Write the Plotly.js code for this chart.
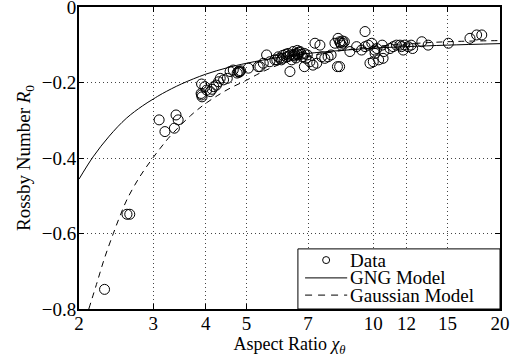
<!DOCTYPE html>
<html>
<head>
<meta charset="utf-8">
<script src="https://cdn.plot.ly/plotly-3.0.1.min.js"></script>
<style>html,body{margin:0;padding:0;background:#fff;}#chart{width:520px;height:359px;}</style>
</head>
<body>
<div id="chart"></div>
<script>
// Data points (aspect ratio, Rossby number)
const dataX = [2.30, 2.60, 2.64, 3.10, 3.20, 3.37, 3.40, 3.44,
  3.91, 3.90, 3.91, 3.92, 3.98, 4.02, 4.10, 4.14, 4.18, 4.24, 4.29, 4.33, 4.41, 4.50,
  4.57, 4.65, 4.75, 4.78, 4.80, 4.82, 4.84, 5.05, 5.33,
  5.38, 5.48, 5.58, 5.68, 5.84, 5.90, 5.95, 6.00, 6.05, 6.09, 6.10, 6.20, 6.23, 6.28, 6.30, 6.34, 6.35,
  6.40, 6.45, 6.45, 6.50, 6.50, 6.55, 6.58, 6.60, 6.63, 6.65, 6.70, 6.75, 6.80, 6.86, 6.86, 6.92, 6.97,
  7.07, 7.19, 7.27, 7.34, 7.47, 7.54, 7.67, 7.81, 7.94,
  8.11, 8.22, 8.25, 8.32, 8.32, 8.35, 8.40, 8.45, 8.47, 8.54, 8.80,
  9.13, 9.38, 9.56, 9.56, 9.73, 9.82, 9.92, 10.0, 10.08, 10.1, 10.2, 10.3, 10.5, 10.55, 10.6,
  10.96, 11.15, 11.35, 11.57, 11.67, 11.78, 11.88, 12.1, 12.3, 12.4, 13.04, 13.5, 15.08, 16.97, 17.6, 18.1];
const dataY = [-0.748, -0.549, -0.549, -0.299, -0.330, -0.321, -0.286, -0.299,
  -0.204, -0.229, -0.233, -0.238, -0.211, -0.220, -0.224, -0.218, -0.211, -0.207, -0.198, -0.189, -0.193, -0.189,
  -0.171, -0.167, -0.175, -0.171, -0.173, -0.171, -0.169, -0.162, -0.158,
  -0.158, -0.149, -0.127, -0.145, -0.140, -0.140, -0.132, -0.136, -0.140, -0.136, -0.128, -0.125, -0.132, -0.123, -0.130, -0.171, -0.127,
  -0.140, -0.118, -0.128, -0.130, -0.125, -0.135, -0.123, -0.115, -0.127, -0.120, -0.118, -0.125, -0.132, -0.123, -0.158, -0.136, -0.127,
  -0.145, -0.154, -0.096, -0.149, -0.101, -0.132, -0.136, -0.132, -0.127,
  -0.096, -0.158, -0.083, -0.092, -0.158, -0.095, -0.101, -0.090, -0.096, -0.092, -0.118,
  -0.105, -0.114, -0.105, -0.065, -0.101, -0.149, -0.096, -0.145, -0.114, -0.123, -0.110, -0.140, -0.101, -0.136, -0.118,
  -0.110, -0.105, -0.101, -0.101, -0.105, -0.114, -0.101, -0.105, -0.101, -0.110, -0.092, -0.101, -0.096, -0.083, -0.074, -0.074];

// GNG model curve
const gngX = [2.0, 2.16, 2.36, 2.59, 2.83, 3.0, 3.16, 3.5, 4.0, 4.5, 5.0, 6.0, 7.0, 8.0, 10.0, 12.0, 15.0, 20.0];
const gngY = [-0.456, -0.397, -0.342, -0.295, -0.262, -0.244, -0.229, -0.204, -0.178, -0.161, -0.149, -0.133, -0.123, -0.117, -0.109, -0.105, -0.101, -0.097];

// Gaussian model curve
const gaussX = [2.11, 2.2, 2.3, 2.413, 2.5, 2.6, 2.78, 2.95, 3.12, 3.3, 3.68, 3.97, 4.26, 4.57, 5.0, 5.38, 6.0, 7.0, 8.0, 10.0, 12.0, 15.0, 20.0];
const gaussY = [-0.80, -0.735, -0.665, -0.600, -0.555, -0.510, -0.452, -0.410, -0.374, -0.341, -0.288, -0.258, -0.235, -0.215, -0.194, -0.175, -0.152, -0.131, -0.119, -0.105, -0.098, -0.092, -0.089];

const xTicks = [2, 3, 4, 5, 7, 10, 12, 15, 20];
const yTicks = [-0.8, -0.6, -0.4, -0.2, 0];
const yTickText = ['\u22120.8', '\u22120.6', '\u22120.4', '\u22120.2', '0'];
const legendNames = ['Data', 'GNG Model', 'Gaussian Model'];

const FONT = 'Liberation Serif, Times New Roman, serif';

const traces = [
  {x: dataX, y: dataY, type: 'scatter', mode: 'markers', name: legendNames[0],
   marker: {symbol: 'circle-open', size: 10, color: '#000', line: {width: 1, color: '#000'}}},
  {x: gngX, y: gngY, type: 'scatter', mode: 'lines', name: legendNames[1],
   line: {color: '#000', width: 1, shape: 'spline', smoothing: 1}},
  {x: gaussX, y: gaussY, type: 'scatter', mode: 'lines', name: legendNames[2],
   line: {color: '#000', width: 1, dash: '6px,5px', shape: 'spline', smoothing: 1}}
];

const axisCommon = {
  showline: true, linecolor: '#000', linewidth: 2, mirror: 'allticks',
  ticks: 'inside', ticklen: 5, tickwidth: 1, tickcolor: '#000',
  showgrid: true, gridcolor: '#444', gridwidth: 1, griddash: '1px,3px',
  zeroline: false, ticklabeloverflow: 'allow',
  tickfont: {family: FONT, size: 19, color: '#000'}
};

// Compact legend box in the lower-right corner (as in the original figure)
const rowY = [0.162, 0.103, 0.046];
const symX0 = 0.537, symX1 = 0.637, textX = 0.641;
const shapes = [
  {type: 'rect', xref: 'paper', yref: 'paper', x0: 0.520, x1: 1.0, y0: 0.0, y1: 0.199,
   line: {color: '#000', width: 1}, fillcolor: '#fff', layer: 'above'},
  {type: 'circle', xref: 'paper', yref: 'paper', xsizemode: 'pixel', ysizemode: 'pixel',
   xanchor: (symX0 + symX1) / 2, yanchor: rowY[0], x0: -3.5, x1: 3.5, y0: -3.5, y1: 3.5,
   line: {color: '#000', width: 1}, layer: 'above'},
  {type: 'line', xref: 'paper', yref: 'paper', x0: symX0, x1: symX1, y0: rowY[1], y1: rowY[1],
   line: {color: '#000', width: 1}, layer: 'above'},
  {type: 'line', xref: 'paper', yref: 'paper', x0: symX0, x1: symX1, y0: rowY[2], y1: rowY[2],
   line: {color: '#000', width: 1, dash: '7px,6px'}, layer: 'above'}
];
const annotations = legendNames.map((n, i) => ({
  xref: 'paper', yref: 'paper', x: textX, y: rowY[i], xanchor: 'left', yanchor: 'middle',
  text: n, showarrow: false, borderpad: 0, font: {family: FONT, size: 19, color: '#000'}
}));

const layout = {
  width: 520, height: 359,
  margin: {l: 79, r: 20, t: 7, b: 50},
  paper_bgcolor: '#fff', plot_bgcolor: '#fff',
  font: {family: FONT, color: '#000'},
  showlegend: false,
  shapes: shapes,
  annotations: annotations,
  xaxis: Object.assign({}, axisCommon, {
    type: 'log', range: [Math.log10(2), Math.log10(20)],
    tickmode: 'array', tickvals: xTicks, ticktext: xTicks.map(String),
    ticklabelstandoff: -4,
    title: {text: 'Aspect Ratio <i>\u03c7</i><sub><i>\u03b8</i></sub>', font: {family: FONT, size: 18, color: '#000'}, standoff: 0}
  }),
  yaxis: Object.assign({}, axisCommon, {
    range: [-0.8, 0], tickmode: 'array', tickvals: yTicks, ticktext: yTickText,
    ticklabelstandoff: -3,
    title: {text: 'Rossby Number <i>R</i><sub>0</sub>', font: {family: FONT, size: 19, color: '#000'}, standoff: 6}
  })
};

Plotly.newPlot('chart', traces, layout, {staticPlot: true, displayModeBar: false});
</script>
</body>
</html>
